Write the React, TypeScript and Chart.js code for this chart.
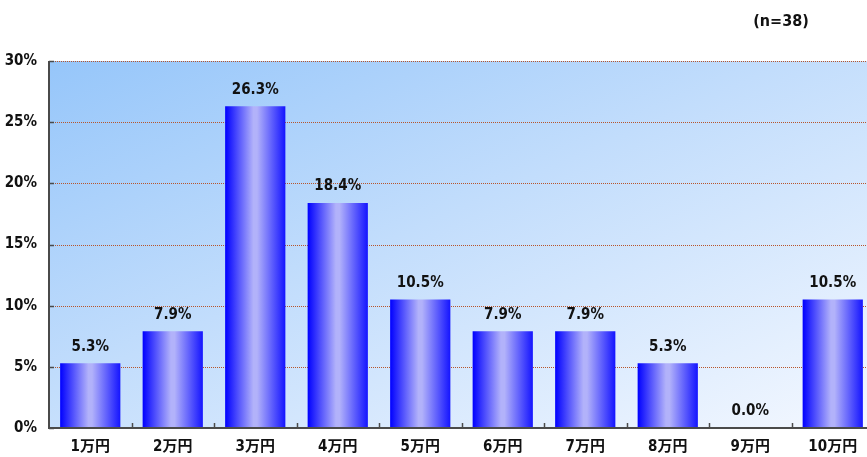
import React, { useEffect, useRef } from "react";
import { Chart, registerables } from "chart.js";

Chart.register(...registerables);

const categories = ["1万円", "2万円", "3万円", "4万円", "5万円", "6万円", "7万円", "8万円", "9万円", "10万円"];
const values = [5.3, 7.9, 26.3, 18.4, 10.5, 7.9, 7.9, 5.3, 0.0, 10.5];
const yTicks = [0, 5, 10, 15, 20, 25, 30];
const noteText = "(n=38)";

const FONT = "'DejaVu Sans Condensed', 'Noto Sans CJK JP', sans-serif";

const decorPlugin = {
  id: "decor",
  beforeDraw(chart: any) {
    const { ctx, chartArea: a } = chart;
    ctx.save();
    ctx.translate(a.left, a.top);
    ctx.scale(a.right - a.left, a.bottom - a.top);
    const g = ctx.createLinearGradient(0, 0, 1, 1);
    g.addColorStop(0, "#96c6fa");
    g.addColorStop(0.45, "#c2ddfc");
    g.addColorStop(1, "#f4f8ff");
    ctx.fillStyle = g;
    ctx.fillRect(0, 0, 1, 1);
    ctx.restore();
    ctx.save();
    // dotted grid lines
    const ys = chart.scales.y;
    ctx.strokeStyle = "#b8552c";
    ctx.lineWidth = 1;
    ctx.setLineDash([1, 1]);
    yTicks.forEach((t) => {
      if (t === 0) return;
      const y = Math.round(ys.getPixelForValue(t)) + 0.5;
      ctx.beginPath();
      ctx.moveTo(a.left, y);
      ctx.lineTo(a.right, y);
      ctx.stroke();
    });
    ctx.restore();
  },
  afterDatasetsDraw(chart: any) {
    const { ctx, chartArea: a } = chart;
    const ys = chart.scales.y;
    const xs = chart.scales.x;
    ctx.save();
    ctx.strokeStyle = "#4a4a4a";
    ctx.lineWidth = 2;
    ctx.beginPath();
    ctx.moveTo(a.left, a.top);
    ctx.lineTo(a.left, a.bottom);
    ctx.lineTo(a.right, a.bottom);
    ctx.stroke();
    ctx.lineWidth = 1.5;
    yTicks.forEach((t) => {
      const y = Math.round(ys.getPixelForValue(t)) + 0.5;
      ctx.beginPath();
      ctx.moveTo(a.left, y);
      ctx.lineTo(a.left + 5, y);
      ctx.stroke();
    });
    const n = categories.length;
    const cw = (a.right - a.left) / n;
    for (let i = 1; i < n; i++) {
      const x = Math.round(a.left + cw * i) + 0.5;
      ctx.beginPath();
      ctx.moveTo(x, a.bottom);
      ctx.lineTo(x, a.bottom - 5);
      ctx.stroke();
    }
    // value labels
    ctx.fillStyle = "#111";
    ctx.font = `bold 15px ${FONT}`;
    ctx.textAlign = "center";
    ctx.textBaseline = "bottom";
    values.forEach((v, i) => {
      const x = xs.getPixelForValue(i);
      const y = ys.getPixelForValue(v);
      ctx.fillText(v.toFixed(1) + "%", x, y - 9);
    });
    // note
    ctx.textBaseline = "middle";
    ctx.font = `bold 16px ${FONT}`;
    ctx.fillText(noteText, 781, 22);
    ctx.restore();
  },
};

export default function App() {
  const ref = useRef<HTMLCanvasElement | null>(null);
  useEffect(() => {
    document.body.style.margin = "0";
    const canvas = ref.current!;
    const chart = new Chart(canvas, {
      type: "bar",
      data: {
        labels: categories,
        datasets: [
          {
            data: values,
            categoryPercentage: 1,
            barPercentage: 0.73,
            borderWidth: 0,
            backgroundColor: (c: any) => {
              const ch = c.chart;
              const a = ch.chartArea;
              if (!a || !ch.scales.x) return "#3030ff";
              const x = ch.scales.x.getPixelForValue(c.dataIndex);
              const w = ((a.right - a.left) / categories.length) * 0.73;
              const g = ch.ctx.createLinearGradient(x - w / 2, 0, x + w / 2, 0);
              g.addColorStop(0, "#0000ff");
              g.addColorStop(0.47, "#b2b2fa");
              g.addColorStop(0.53, "#b2b2fa");
              g.addColorStop(1, "#1414ff");
              return g;
            },
          },
        ],
      },
      options: {
        responsive: false,
        animation: false,
        layout: { padding: { top: 61, right: 0, left: 0, bottom: 0 } },
        plugins: { legend: { display: false }, tooltip: { enabled: false } },
        scales: {
          x: {
            grid: { display: false, drawTicks: false },
            border: { display: false },
            ticks: { color: "#111", font: { family: FONT, weight: "bold", size: 15 }, padding: 10 },
            afterFit: (s: any) => {
              s.height = 29;
            },
          },
          y: {
            min: 0,
            max: 30,
            grid: { display: false, drawTicks: false },
            border: { display: false },
            afterBuildTicks: (s: any) => {
              s.ticks = yTicks.map((v) => ({ value: v }));
            },
            ticks: {
              color: "#111",
              font: { family: FONT, weight: "bold", size: 15 },
              padding: 12,
              callback: (v: any) => v + "%",
            },
            afterFit: (s: any) => {
              s.width = 49;
            },
          },
        },
      },
      plugins: [decorPlugin],
    });
    return () => chart.destroy();
  }, []);
  return (
    <div style={{ position: "absolute", left: 0, top: 0, width: 867, height: 457, overflow: "hidden" }}>
      <canvas ref={ref} width={874} height={457} />
    </div>
  );
}
